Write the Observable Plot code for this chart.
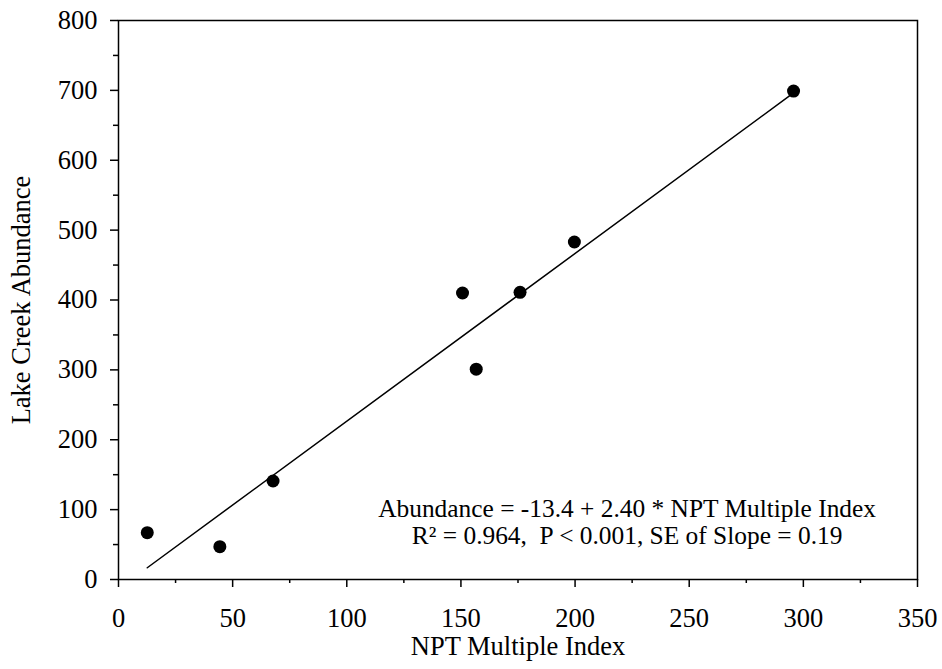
<!DOCTYPE html>
<html>
<head>
<meta charset="utf-8">
<script src="https://cdn.jsdelivr.net/npm/d3@7"></script>
<script src="https://cdn.jsdelivr.net/npm/@observablehq/plot@0.6"></script>
<style>
  html, body { margin: 0; padding: 0; background: white; }
</style>
</head>
<body>
<div id="chart"></div>
<script>
// Data
const npt = [12.6, 44.4, 67.7, 150.7, 156.7, 175.9, 199.7, 295.7];
const abundance = [67, 47, 141, 410, 301, 411, 483, 699];

// Regression stated in the chart
const intercept = -13.4;
const slope = 2.40;

// Tick values
const xMajor = [0, 50, 100, 150, 200, 250, 300, 350];
const xMinor = [25, 75, 125, 175, 225, 275, 325];
const yMajor = [0, 100, 200, 300, 400, 500, 600, 700, 800];
const yMinor = [50, 150, 250, 350, 450, 550, 650, 750];

const annotationLines = [
  "Abundance = -13.4 + 2.40 * NPT Multiple Index",
  "R\u00b2 = 0.964,\u00a0 P < 0.001, SE of Slope = 0.19"
];
const annotationX = 222.8;
const annotationY = 118;

const points = npt.map((x, i) => ({x, y: abundance[i]}));
const xMin = d3.min(npt), xMax = d3.max(npt);
const fit = [xMin, xMax].map(x => ({x, y: intercept + slope * x}));

const chart = Plot.plot({
  width: 942,
  height: 669,
  marginLeft: 118,
  marginRight: 25,
  marginTop: 20,
  marginBottom: 90,
  x: {domain: [0, 350]},
  y: {domain: [0, 800]},
  style: {
    fontFamily: "'Liberation Serif', 'Times New Roman', serif",
    fontSize: "24px",
    background: "white",
    color: "black"
  },
  marks: [
    Plot.frame({stroke: "black", strokeWidth: 1.5}),
    Plot.axisX({ticks: xMajor, tickSize: 8, tickPadding: 21, strokeWidth: 1.5,
      label: "NPT Multiple Index", labelAnchor: "center", labelOffset: 75, labelArrow: "none", fontSize: 26.5}),
    Plot.axisX({ticks: xMinor, tickSize: 4, fill: "none", label: null, strokeWidth: 1.5}),
    Plot.axisY({ticks: yMajor, tickSize: 8, tickPadding: 13, strokeWidth: 1.5,
      label: "Lake Creek Abundance", labelAnchor: "center", labelOffset: 107, labelArrow: "none", fontSize: 26.5}),
    Plot.axisY({ticks: yMinor, tickSize: 5, fill: "none", label: null, strokeWidth: 1.5}),
    Plot.line(fit, {x: "x", y: "y", stroke: "black", strokeWidth: 1.5}),
    Plot.dot(points, {x: "x", y: "y", r: 6.5, fill: "black", stroke: "none"}),
    Plot.text([annotationLines.join("\n")], {
      x: () => annotationX, y: () => annotationY, text: d => d,
      lineAnchor: "top", lineHeight: 1.09, fontSize: 25.4, fill: "black"
    })
  ]
});
document.getElementById("chart").appendChild(chart);
</script>
</body>
</html>
